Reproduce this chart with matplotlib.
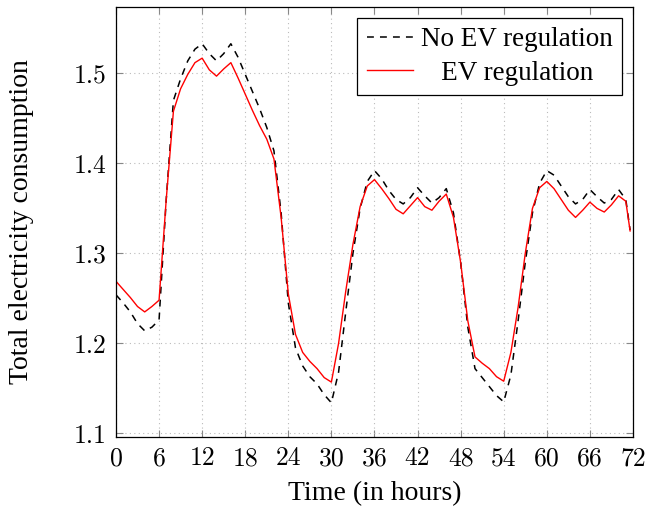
import numpy as np
import matplotlib
matplotlib.use("Agg")
import matplotlib.pyplot as plt

# horas (amostras de hora em hora, ultima em 71.6)
horas = list(range(72)) + [71.6]

# consumo total sem regulacao dos VE
semRegulacao = [1.254, 1.245, 1.235, 1.222, 1.214, 1.218, 1.226, 1.360, 1.470, 1.494,
                1.514, 1.527, 1.533, 1.522, 1.514, 1.522, 1.533, 1.518, 1.499, 1.480,
                1.461, 1.440, 1.414, 1.345, 1.245, 1.195, 1.175, 1.163, 1.155, 1.143,
                1.134, 1.168, 1.235, 1.300, 1.350, 1.380, 1.392, 1.383, 1.370, 1.360,
                1.355, 1.362, 1.373, 1.364, 1.356, 1.362, 1.372, 1.345, 1.290, 1.218,
                1.172, 1.162, 1.152, 1.142, 1.135, 1.165, 1.225, 1.290, 1.345, 1.378,
                1.392, 1.387, 1.375, 1.363, 1.355, 1.360, 1.371, 1.363, 1.356, 1.360,
                1.371, 1.360, 1.326]

# consumo total com regulacao dos VE
comRegulacao = [1.269, 1.260, 1.251, 1.241, 1.235, 1.241, 1.248, 1.360, 1.458, 1.483,
                1.499, 1.512, 1.517, 1.504, 1.497, 1.505, 1.512, 1.495, 1.477, 1.459,
                1.442, 1.427, 1.405, 1.340, 1.255, 1.210, 1.190, 1.180, 1.172, 1.162,
                1.157, 1.200, 1.258, 1.310, 1.352, 1.375, 1.382, 1.372, 1.361, 1.349,
                1.344, 1.353, 1.362, 1.352, 1.348, 1.358, 1.366, 1.340, 1.290, 1.225,
                1.185, 1.178, 1.172, 1.163, 1.158, 1.190, 1.240, 1.300, 1.350, 1.373,
                1.380, 1.372, 1.360, 1.348, 1.340, 1.348, 1.357, 1.350, 1.346, 1.354,
                1.364, 1.358, 1.325]

xticks = list(range(0, 73, 6))
yticks = [1.1, 1.2, 1.3, 1.4, 1.5]

plt.rcParams['font.family'] = ['Liberation Serif', 'DejaVu Serif']

fig = plt.figure(figsize=(6.49, 5.09), dpi=100)
ax = fig.add_axes([0.1787, 0.142, 0.9753 - 0.1787, 0.986 - 0.142])

ax.plot(horas, semRegulacao, color='black', linestyle=(0, (4.5, 4)), linewidth=1.1,
        label='No EV regulation')
ax.plot(horas, comRegulacao, color='red', linewidth=1.0, label='   EV regulation')

ax.set_xlim(0, 72)
ax.set_ylim(1.0963, 1.5737)
ax.set_xticks(xticks)
ax.set_yticks(yticks)
ax.set_xticklabels([str(v) for v in xticks], family='cmr10', fontsize=18.5)
ax.set_yticklabels([f"{v:.1f}" for v in yticks], family='cmr10', fontsize=18.5)
ax.tick_params(direction='in', top=True, right=True, length=5, width=0.8,
               color='#888888', pad=7)
ax.grid(True, linestyle=(0, (1, 3)), color='#bbbbbb', linewidth=0.8)
for s in ax.spines.values():
    s.set_linewidth(0.9)

ax.set_xlabel('Time (in hours)', fontsize=20, labelpad=8)
ax.set_ylabel('Total electricity consumption', fontsize=20, labelpad=28)

leg = ax.legend(loc='upper right', fontsize=19.5, fancybox=False, framealpha=1,
                edgecolor='black', handlelength=1.7, borderpad=0.35,
                labelspacing=0.3, handletextpad=0.3, borderaxespad=0.4)
leg.get_frame().set_linewidth(0.9)

plt.savefig("out.png", format="png")
